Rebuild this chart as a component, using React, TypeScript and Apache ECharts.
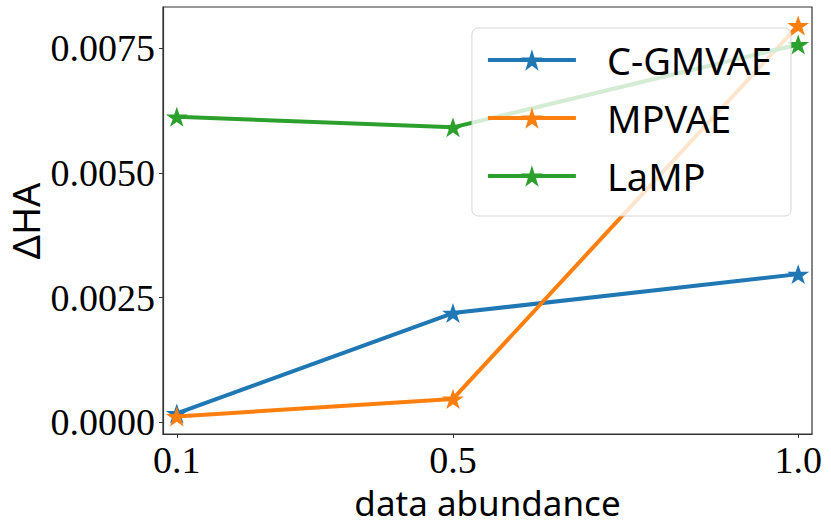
import React, { useEffect, useRef } from "react";
import * as echarts from "echarts";

const xValues = [0.1, 0.5, 1.0];
const seriesNames = ["C-GMVAE", "MPVAE", "LaMP"];
const cgmvae = [0.00018, 0.00219, 0.00297];
const mpvae = [0.00012, 0.00047, 0.00795];
const lamp = [0.00612, 0.00591, 0.00757];
const xTicks = [0.1, 0.5, 1.0];
const yTicks = [0, 0.0025, 0.005, 0.0075];
const colors = ["#1f77b4", "#ff7f0e", "#2ca02c"];
const yTitle = "ΔHA";
const xTitle = "data abundance";

const STAR =
  "path://M0,-10L2.245,-3.09L9.511,-3.09L3.633,1.18L5.878,8.09L0,3.82L-5.878,8.09L-3.633,1.18L-9.511,-3.09L-2.245,-3.09Z";

export default function App() {
  const ref = useRef<HTMLDivElement>(null);
  useEffect(() => {
    if (!ref.current) return;
    const chart = echarts.init(ref.current, undefined, { renderer: "svg" });
    const allSeries = [cgmvae, mpvae, lamp];
    const axisColor = "#333";
    chart.setOption({
      animation: false,
      backgroundColor: "#fff",
      grid: {
        left: 163,
        right: 19,
        top: 7,
        bottom: 94,
        containLabel: false,
        outerBoundsMode: "none",
        show: true,
        borderColor: axisColor,
        borderWidth: 1.2,
        backgroundColor: "transparent",
      },
      graphic: [
        {
          type: "text",
          x: 25,
          y: 221,
          rotation: Math.PI / 2,
          style: {
            text: yTitle,
            fontFamily: "Noto Sans",
            fontSize: 38,
            fill: "#000",
            align: "center",
            verticalAlign: "middle",
          },
        },
      ],
      legend: {
        orient: "vertical",
        top: 28,
        right: 40,
        itemWidth: 88,
        itemHeight: 27,
        itemGap: 18,
        backgroundColor: "rgba(255,255,255,0.8)",
        borderColor: "rgba(204,204,204,0.8)",
        borderWidth: 1,
        borderRadius: 6,
        padding: [12, 19, 20, 14],
        z: 10,
        lineStyle: { width: 4 },
        textStyle: {
          fontFamily: "Noto Sans",
          fontSize: 38,
          color: "#000",
          lineHeight: 40,
          padding: [0, 0, 0, 26],
        },
        data: seriesNames,
      },
      xAxis: {
        type: "value",
        min: 0.08,
        max: 1.02,
        name: xTitle,
        nameLocation: "middle",
        nameGap: 43,
        nameTextStyle: { fontFamily: "Noto Sans", fontSize: 35, color: "#000", lineHeight: 38 },
        axisLine: { show: true, onZero: false, lineStyle: { color: axisColor, width: 1.2 } },
        axisTick: { show: true, customValues: xTicks, length: 4, lineStyle: { color: axisColor } },
        axisLabel: {
          customValues: xTicks,
          formatter: (v: number) => v.toFixed(1),
          fontFamily: "Liberation Serif",
          fontSize: 38,
          color: "#000",
          margin: 7,
        },
        splitLine: { show: false },
      },
      yAxis: {
        type: "value",
        min: -0.000232,
        max: 0.00832,
        axisLine: { show: true, onZero: false, lineStyle: { color: axisColor, width: 1.2 } },
        axisTick: { show: true, customValues: yTicks, length: 4, lineStyle: { color: axisColor } },
        axisLabel: {
          customValues: yTicks,
          formatter: (v: number) => v.toFixed(4),
          fontFamily: "Liberation Serif",
          fontSize: 38,
          color: "#000",
          margin: 8,
        },
        splitLine: { show: false },
      },
      series: seriesNames.map((name, i) => ({
        name,
        type: "line",
        data: xValues.map((x, j) => [x, allSeries[i][j]]),
        symbol: STAR,
        symbolSize: [22, 21],
        symbolKeepAspect: true,
        showSymbol: true,
        z: 2,
        color: colors[i],
        lineStyle: { width: 4, color: colors[i] },
        itemStyle: { color: colors[i] },
        emphasis: { disabled: true },
      })),
    });
    return () => chart.dispose();
  }, []);
  return (
    <div
      ref={ref}
      style={{ position: "absolute", left: 0, top: 0, width: 831, height: 528, background: "#fff" }}
    />
  );
}
